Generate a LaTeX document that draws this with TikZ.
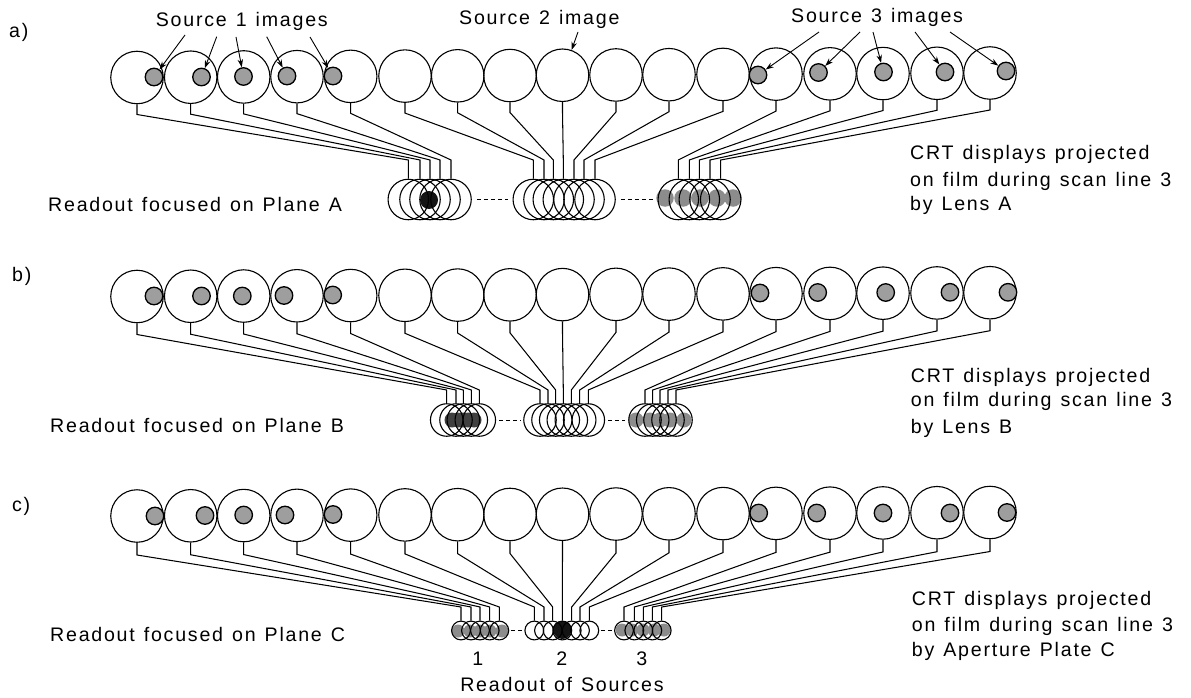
\documentclass[tikz,border=0pt]{standalone}
\usepackage{fontspec}
\setmainfont[LetterSpace=9,WordSpace=1.25]{Liberation Sans}
\usetikzlibrary{arrows.meta}
\tikzset{
  topc/.style={draw=black,circle,line width=1.1pt,inner sep=0pt,minimum size=52.5pt},
  readc/.style={draw=black,circle,line width=1.1pt,inner sep=0pt,minimum size=#1},
  blob/.style={draw=black,circle,line width=1.3pt,fill=black!38,inner sep=0pt,minimum size=17.5pt},
  rblob/.style={circle,inner sep=0pt,draw=none,fill=black!45},
  wire/.style={line width=1.05pt,black},
  gapline/.style={line width=0.9pt,black,dash pattern=on 4pt off 3pt,shorten <=#1,shorten >=#1},
  callout/.style={line width=0.9pt,black,-{Stealth[length=8pt,width=5.5pt]}},
  lab/.style={anchor=base west,inner sep=0pt,font=\fontsize{19.6}{22}\selectfont,black},
  labc/.style={anchor=base,inner sep=0pt,font=\fontsize{19.6}{22}\selectfont,black},
  tag/.style={anchor=base west,inner sep=0pt,font=\fontsize{19.6}{22}\selectfont,black}
}
% #1 row, #2 y left, #3 y right, #4 knee offset, #5 drop y, #6 readout y, #7 readout diameter, #8 gap shortening, #9 i/readout x list
\newcommand{\crtrow}[9]{%
  \foreach \i/\tx/\rx in {#9}{%
    \pgfmathsetmacro{\yt}{#2+(#3-#2)*(\i-1)/16}
    \pgfmathsetmacro{\yk}{\yt+#4}
    \node[topc] (#1-t\i) at (\tx,\yt) {};
    \node[readc=#7] (#1-r\i) at (\rx,#6) {};
    \coordinate (#1-k\i) at (\tx,\yk);
    \coordinate (#1-d\i) at (\rx,#5);
    \draw[wire] (#1-t\i.south) -- (#1-k\i) -- (#1-d\i) -- (#1-r\i.north);
  }%
  \draw[gapline=#8] (#1-r5) -- (#1-r6);
  \draw[gapline=#8] (#1-r12) -- (#1-r13);
}
\begin{document}
\begin{tikzpicture}[x=1pt,y=-1pt]
\useasboundingbox (0,0) rectangle (1191,698);
\fill[white] (0,0) rectangle (1191,698);
% readout spots (beneath the rings)
\node[rblob,fill=black!92,minimum size=18pt] (a-s1) at (429,200) {};
\foreach \k/\x in {1/665,2/683,3/700,4/717,5/733}{\node[rblob,minimum size=17.5pt] (a-u\k) at (\x,198) {};}
\foreach \k/\x in {1/452,2/458,3/463,4/468,5/474}{\node[rblob,fill=black!75,minimum size=15pt] (b-u\k) at (\x,420) {};}
\foreach \k/\x in {1/636,2/650,3/660,4/670,5/684}{\node[rblob,minimum size=15pt] (b-v\k) at (\x,420) {};}
\foreach \k/\x in {1/458,2/470,3/480,4/490,5/502}{\node[rblob,minimum size=13pt] (c-u\k) at (\x,631) {};}
\foreach \k/\x in {1/622,2/632,3/643,4/654,5/664}{\node[rblob,minimum size=13pt] (c-v\k) at (\x,630) {};}
\node[rblob,fill=black!92,minimum size=18pt] (c-s2) at (562.3,630) {};
% rows
\crtrow{a}{77.5}{73}{37}{160}{199.5}{40.5pt}{5pt}{1/137/408.3,2/190.7/420,3/243.7/430,4/297/440,5/350.7/451,6/405/533.3,7/457.7/544,8/510/553.3,9/562.5/563.3,10/616/574,11/669/584,12/723/595,13/776/678.3,14/830/689.3,15/883/699.3,16/937/710,17/990/720.7}
\crtrow{b}{296.5}{292.7}{38}{390}{420}{32.5pt}{3pt}{1/137/446.7,2/190.7/456,3/243.7/463.3,4/297/471.3,5/350.7/479.3,6/405/540,7/457.7/548,8/510/555.7,9/562.5/563.3,10/616/571.3,11/669/579.7,12/723/588.3,13/776/645,14/830/652.7,15/883/660,16/937/668,17/990/676}
\crtrow{c}{516}{512.5}{39}{607}{630.5}{18.8pt}{1.5pt}{1/137/461,2/190.7/471,3/243.7/480,4/297/489.7,5/350.7/499.3,6/405/534.3,7/457.7/544,8/510/552.7,9/562.5/562.3,10/616/571.7,11/669/580,12/723/589.3,13/776/624,14/830/634.3,15/883/643.3,16/937/652.3,17/990/661.7}
% source images on the displays
\foreach \i/\x/\y in {1/154/77,2/201.5/77,3/243.5/76.5,4/287/76,5/333/76,13/758/75,14/818.5/72.5,15/883.5/72,16/945/72,17/1006/71}{\node[blob] (a-b\i) at (\x,\y) {};}
\foreach \i/\x/\y in {1/154/296,2/201.5/296,3/242.3/296,4/284/295.5,5/332.7/295,13/760/293,14/817.7/292.5,15/885.7/292.5,16/950/292.3,17/1008/292.3}{\node[blob] (b-b\i) at (\x,\y) {};}
\foreach \i/\x/\y in {1/155/516,2/205/515.5,3/243.7/515,4/285/515,5/333/514.5,13/758.7/513,14/816.7/513,15/883/513,16/950/513,17/1007/512.5}{\node[blob] (c-b\i) at (\x,\y) {};}
% callouts
\foreach \n/\x/\y in {p1/185/35,p2/216.7/36.7,p3/236/37,p4/266.7/36.7,p5/310/37,q9/578/32,r1/819/32,r2/860/32,r3/873/32,r4/915/32,r5/950/32}{\coordinate (\n) at (\x,\y);}
\draw[callout] (p1) -- (a-b1);
\draw[callout] (p2) -- (a-b2);
\draw[callout] (p3) -- (a-b3);
\draw[callout] (p4) -- (a-b4);
\draw[callout] (p5) -- (a-b5);
\draw[callout] (q9) -- (a-t9);
\draw[callout] (r1) -- (a-b13);
\draw[callout] (r2) -- (a-b14);
\draw[callout] (r3) -- (a-b15);
\draw[callout] (r4) -- (a-b16);
\draw[callout] (r5) -- (a-b17);
% text
\node[tag] (ta) at (9,38) {a)};
\node[tag] (tb) at (12,281.5) {b)};
\node[tag] (tc) at (12,511) {c)};
\node[lab] (s1) at (155.7,26.7) {Source 1 images};
\node[lab] (s2) at (459,25) {Source 2 image};
\node[lab] (s3) at (791,22.7) {Source 3 images};
\node[lab] (ra) at (48,211) {Readout focused on Plane A};
\node[lab] (rb) at (50,432) {Readout focused on Plane B};
\node[lab] (rc) at (50,641) {Readout focused on Plane C};
\node[lab] (a1) at (910,160) {CRT displays projected};
\node[lab] (a2) at (910,186) {on film during scan line 3};
\node[lab] (a3) at (910,210) {by Lens A};
\node[lab] (b1) at (910.7,382.7) {CRT displays projected};
\node[lab] (b2) at (910.7,406.7) {on film during scan line 3};
\node[lab] (b3) at (910.7,433) {by Lens B};
\node[lab] (c1) at (911.7,605) {CRT displays projected};
\node[lab] (c2) at (911.7,631.7) {on film during scan line 3};
\node[lab] (c3) at (911.7,656.7) {by Aperture Plate C};
\node[labc] (n1) at (477.7,665) {1};
\node[labc] (n2) at (561.7,665) {2};
\node[labc] (n3) at (641.7,665) {3};
\node[labc] (ros) at (562,691) {Readout of Sources};
\end{tikzpicture}
\end{document}
